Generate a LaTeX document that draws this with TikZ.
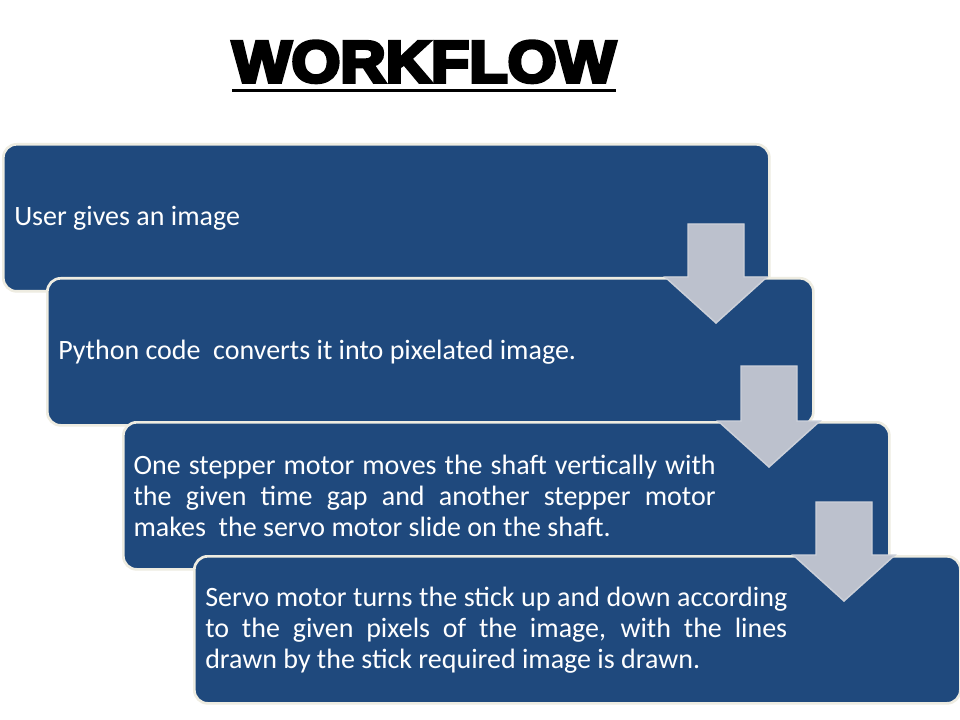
\documentclass[tikz,border=0pt]{standalone}
\usepackage{fontspec}
\setmainfont{Carlito}
\newfontfamily\titlefont{Liberation Sans}[UprightFont=* Bold, FakeBold=6]
\usepackage{graphicx}
\definecolor{boxblue}{HTML}{1F497D}
\definecolor{boxedge}{HTML}{EEECE1}
\definecolor{arrfill}{HTML}{BCC1CD}
\definecolor{arredge}{HTML}{CCD0D9}
\begin{document}
\begin{tikzpicture}[x=0.75pt,y=-0.75pt,
  stepbox/.style={draw=boxedge, line width=2pt, fill=boxblue, rounded corners=10pt,
    minimum width=574.5pt, minimum height=110.25pt, anchor=north west, inner sep=0pt},
  steptext/.style={text=white, font=\fontsize{21}{23.25}\selectfont, anchor=west,
    inner sep=0pt, align=left},
  blockarrow/.style={fill=arrfill, draw=arredge, line width=1.1pt, line join=miter}]
\useasboundingbox (0,0) rectangle (960,720);
\fill[white] (0,0) rectangle (960,720);
% title
\node[inner sep=0pt, anchor=base west] (title) at (232,82)
  {\scalebox{1.07}[1]{\titlefont\fontsize{44}{44}\selectfont WORKFLOW}};
\draw[line width=2.25pt] ([yshift=-6.4pt]title.base west) -- ([yshift=-6.4pt]title.base east);
% boxes and arrows
\node[stepbox] (b1) at (2,143) {};
\node[steptext] (t1) at ([xshift=9pt]b1.west) {User gives an image};
\node[stepbox] (b2) at (46,277) {};
\node[steptext] (t2) at ([xshift=9pt]b2.west) {Python code\ \ converts it into pixelated image.};
\draw[blockarrow] (688,224) -- (744,224) -- (744,277) -- (767,277) -- (716,323) -- (665,277) -- (688,277) -- cycle;
\node[stepbox] (b3) at (122,421) {};
\node[steptext] (t3) at ([xshift=8.5pt]b3.west)
  {\makebox[436.5pt][s]{One stepper motor moves the shaft vertically with}\\
   \makebox[436.5pt][s]{the given time gap and another stepper motor}\\
   makes\ \ the servo motor slide on the shaft.};
\draw[blockarrow] (741,366) -- (797,366) -- (797,421) -- (820,421) -- (769,467) -- (718,421) -- (741,421) -- cycle;
\node[stepbox] (b4) at (193,555) {};
\node[steptext] (t4) at ([xshift=9pt]b4.west)
  {\makebox[436.5pt][s]{Servo motor turns the stick up and down according}\\
   \makebox[436.5pt][s]{to the given pixels of the image, with the lines}\\
   drawn by the stick required image is drawn.};
\draw[blockarrow] (816,502) -- (872,502) -- (872,555) -- (895,555) -- (844,601) -- (793,555) -- (816,555) -- cycle;
\end{tikzpicture}
\end{document}
